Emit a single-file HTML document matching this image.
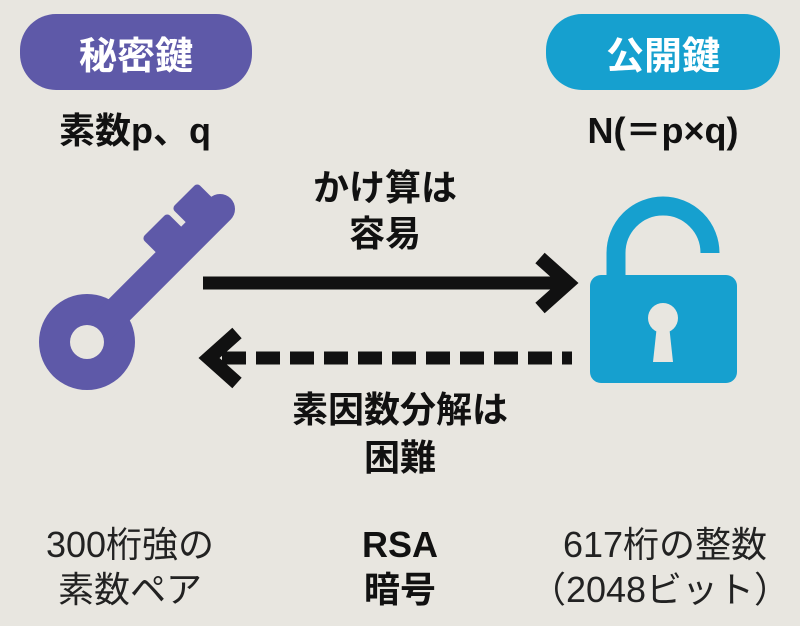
<!DOCTYPE html>
<html><head><meta charset="utf-8"><style>
html,body{margin:0;padding:0;}
body{width:800px;height:626px;background:#e8e6e0;position:relative;overflow:hidden;font-family:"Liberation Sans","Noto Sans CJK JP",sans-serif;}
.t{position:absolute;white-space:nowrap;text-align:center;transform:translateX(-50%);line-height:1;}
.pill{position:absolute;border-radius:36px;color:#fff;font-weight:bold;font-size:38px;display:flex;align-items:center;justify-content:center;}
.b{font-weight:bold;color:#111;font-size:36px;}
.r{color:#222;font-size:36px;}
</style></head><body>
<div class="pill" style="left:20px;top:14px;width:232px;height:76px;background:#5e59a8;">秘密鍵</div>
<div class="pill" style="left:546px;top:14px;width:234px;height:76px;background:#16a0cf;">公開鍵</div>
<div class="t b" style="left:135px;top:113px;">素数p、q</div>
<div class="t b" style="left:663px;top:113px;">N(＝p×q)</div>
<div class="t b" style="left:385px;top:170px;">かけ算は</div>
<div class="t b" style="left:385px;top:216px;">容易</div>
<div class="t b" style="left:400px;top:392px;">素因数分解は</div>
<div class="t b" style="left:400px;top:440px;">困難</div>
<div class="t r" style="left:130px;top:527px;">300桁強の</div>
<div class="t r" style="left:130px;top:572px;">素数ペア</div>
<div class="t b" style="left:400px;top:527px;">RSA</div>
<div class="t b" style="left:400px;top:572px;">暗号</div>
<div class="t r" style="left:665px;top:527px;">617桁の整数</div>
<div class="t r" style="left:660px;top:572px;">（2048ビット）</div>
<svg width="800" height="626" style="position:absolute;left:0;top:0">
<g fill="#5e59a8">
<circle cx="87" cy="342" r="48"/>
<line x1="87" y1="342" x2="220" y2="209" stroke="#5e59a8" stroke-width="30" stroke-linecap="round"/>
<rect x="-12" y="-18" width="24" height="36" rx="4" transform="translate(163 234) rotate(45)"/>
<rect x="-12" y="-18" width="24" height="36" rx="4" transform="translate(193 204) rotate(45)"/>
</g>
<circle cx="87" cy="342" r="17" fill="#e8e6e0"/>
<path d="M616 275 V253 A47 47 0 0 1 710 253" fill="none" stroke="#16a0cf" stroke-width="19"/>
<rect x="590" y="275" width="147" height="108" rx="11" fill="#16a0cf"/>
<circle cx="663" cy="318" r="15" fill="#e8e6e0"/>
<path d="M657 325 L669 325 L673 362 L653 362 Z" fill="#e8e6e0"/>
<g stroke="#111" stroke-width="13" fill="none">
<line x1="203" y1="283" x2="565" y2="283"/>
<polyline points="540,258 568,283 540,308" stroke-width="14"/>
<line x1="222" y1="358" x2="572" y2="358" stroke-dasharray="24,10"/>
<polyline points="237,333 209,358 237,383" stroke-width="14"/>
</g>
</svg>
</body></html>
